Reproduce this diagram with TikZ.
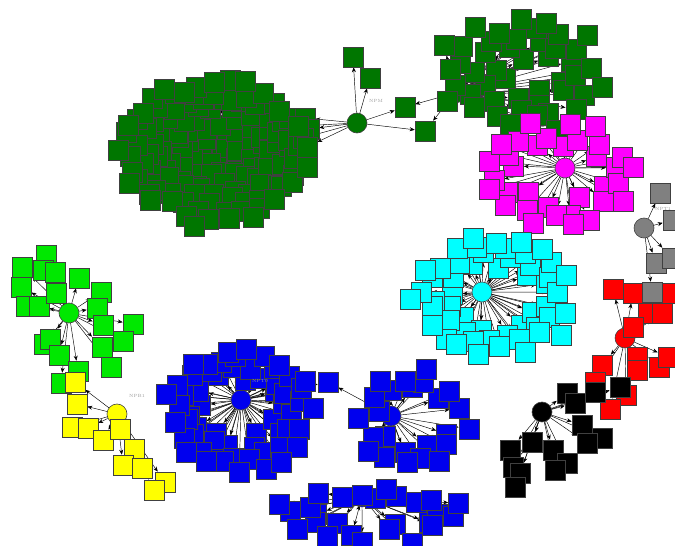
\documentclass[tikz,border=0pt]{standalone}
\usetikzlibrary{arrows.meta}
\pgfdeclarelayer{edges}
\pgfsetlayers{edges,main}
\definecolor{cdg}{RGB}{0,118,0}
\definecolor{clg}{RGB}{0,232,0}
\definecolor{cyel}{RGB}{255,255,0}
\definecolor{cblue}{RGB}{0,0,238}
\definecolor{ccyan}{RGB}{0,255,255}
\definecolor{cmag}{RGB}{255,0,255}
\definecolor{cred}{RGB}{255,0,0}
\definecolor{cgray}{RGB}{128,128,128}
\definecolor{cblk}{RGB}{0,0,0}
\tikzset{
  leaf/.style={rectangle,draw=black!75,line width=0.6pt,minimum size=20pt,inner sep=0pt},
  hub/.style={circle,draw=black!75,line width=0.6pt,minimum size=20pt,inner sep=0pt},
  edge/.style={draw=black,line width=0.45pt,-{Stealth[length=5pt,width=4pt]}},
  lbl/.style={text=black!40,font=\fontsize{4.5}{5}\selectfont,inner sep=0pt}
}
\newcommand\sunflower[9]{%
  \foreach \i in {1,...,#8}{%
    \pgfmathsetmacro\rr{sqrt(#9*#9+(1-#9*#9)*(\i-0.5)/#8)}%
    \pgfmathsetmacro\ang{360*mod(\i*0.381966,1)}%
    \pgfmathsetmacro\jx{5*rand}%
    \pgfmathsetmacro\jy{5*rand}%
    \node[leaf,fill=#2] (#1-\i) at ({#4+#6*\rr*cos(\ang)+\jx},{#5+#7*\rr*sin(\ang)+\jy}) {};%
  }%
  \begin{pgfonlayer}{edges}%
    \foreach \i in {1,...,#8}{\draw[edge] (#3) -- (#1-\i);}%
  \end{pgfonlayer}%
}
\newcommand\listcluster[4]{%
  \foreach \x/\y [count=\i] in {#4}{\node[leaf,fill=#2] (#1-\i) at (\x,\y) {};}%
  \begin{pgfonlayer}{edges}%
    \foreach \x/\y [count=\i] in {#4}{\draw[edge] (#3) -- (#1-\i);}%
  \end{pgfonlayer}%
}
\begin{document}
\begin{tikzpicture}[x=1pt,y=-1pt]
\pgfmathsetseed{7}
\useasboundingbox (0,0) rectangle (675,546);

% dark green
\node[hub,fill=cdg] (npm) at (357,123) {};
\coordinate (bgc) at (213,152);
\sunflower{bg}{cdg}{bgc}{213}{151}{94}{74}{135}{0}
\listcluster{bgx}{cdg}{npm}{305/118, 309/129, 303/138, 307/147, 298/126}
\listcluster{ng}{cdg}{npm}{353/57, 370/78, 405/107, 425/131}
\node[hub,fill=cdg] (hg2) at (455,93) {};
\sunflower{g2}{cdg}{hg2}{522}{72}{84}{58}{46}{0.2}
\begin{pgfonlayer}{edges}
\draw[edge] (hg2) -- (ng-3);
\draw[edge] (hg2) -- (ng-4);
\end{pgfonlayer}

% magenta
\node[hub,fill=cmag] (hm) at (565,168) {};
\sunflower{mg}{cmag}{hm}{558}{175}{78}{56}{34}{0.48}

% cyan
\node[hub,fill=ccyan] (hc) at (482,292) {};
\sunflower{cy}{ccyan}{hc}{493}{296}{80}{63}{52}{0.47}

% red
\node[hub,fill=cred] (hr) at (625,338) {};
\listcluster{rd}{cred}{hr}{613/289, 633/293, 668/293, 648/313, 662/313, 633/327, 637/357, 637/370, 659/367, 668/357, 602/365, 595/382, 626/395, 610/409}

% gray
\node[hub,fill=cgray] (hgy) at (644,228) {};
\listcluster{gy}{cgray}{hgy}{660/193, 673/220, 656/263, 672/258, 652/292}

% black
\node[hub,fill=cblk] (hk) at (542,412) {};
\listcluster{bk}{cblk}{hk}{567/393, 575/403, 595/392, 620/387, 582/425, 602/438, 587/443, 510/450, 532/442, 553/450, 567/463, 555/470, 513/467, 520/473, 515/487}

% light green
\node[hub,fill=clg] (hl) at (69,313) {};
\listcluster{lg}{clg}{hl}{22/267, 46/255, 43/270, 55/272, 21/287, 26/306, 39/306, 56/293, 79/278, 101/292, 97/308, 103/325, 133/324, 123/341, 102/347, 111/367, 44/344, 50/339, 59/355, 78/371, 61/383}

% yellow
\node[hub,fill=cyel] (hy) at (117,414) {};
\listcluster{ye}{cyel}{hy}{75/382, 77/404, 72/427, 88/428, 103/440, 120/429, 134/449, 123/465, 142/468, 165/482, 154/490}

% blue
\node[hub,fill=cblue] (hb1) at (241,400) {};
\sunflower{bA}{cblue}{hb1}{239}{410}{74}{66}{60}{0.45}
\node[hub,fill=cblue] (hb2) at (391,416) {};
\sunflower{bB}{cblue}{hb2}{410}{420}{58}{52}{24}{0.5}
\node[leaf,fill=cblue] (bs) at (328,382) {};
\begin{pgfonlayer}{edges}
\draw[edge] (hb1) -- (bs);
\draw[edge] (hb2) -- (bs);
\end{pgfonlayer}
\node[hub,fill=cblue] (hb3) at (362,497) {};
\sunflower{bC}{cblue}{hb3}{370}{514}{96}{30}{26}{0.42}

% labels
\node[lbl] (lnpm) at (376,101) {NPM};
\node[lbl] (lnpb) at (137,396) {NPB1};
\node[lbl] (lnpt) at (260,381) {NPT0};
\node[lbl] (lnpg) at (663,209) {NPT1};
\end{tikzpicture}
\end{document}
